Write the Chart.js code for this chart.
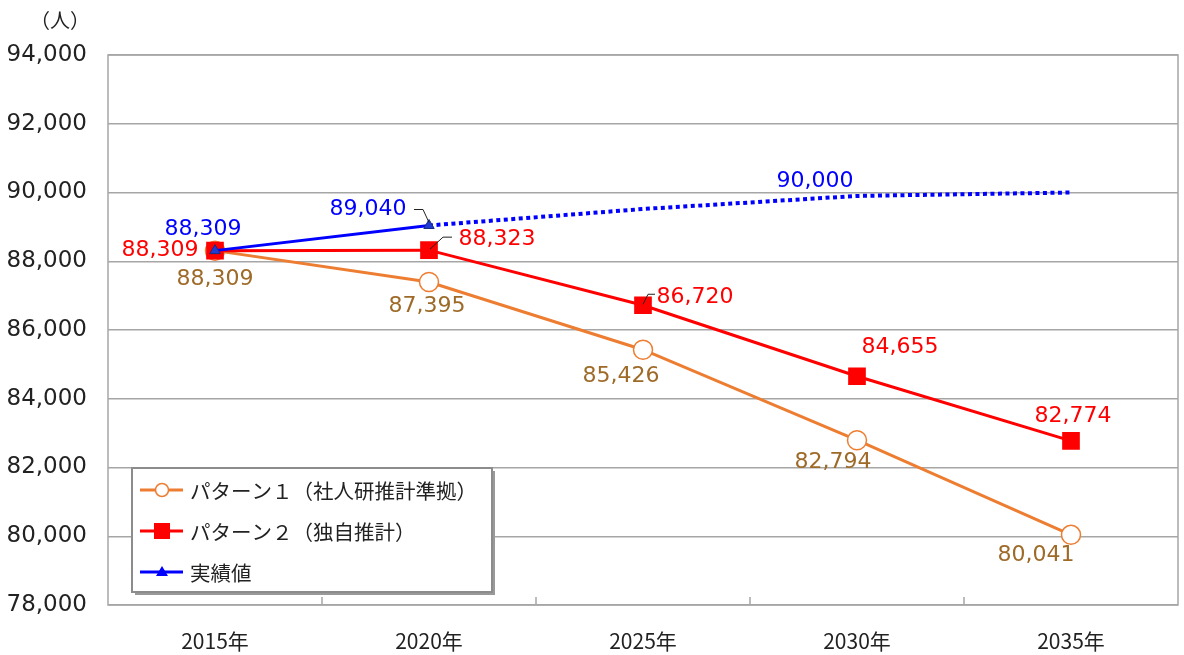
<!DOCTYPE html>
<html lang="ja">
<head>
<meta charset="utf-8">
<script src="https://cdn.jsdelivr.net/npm/chart.js@4.4.1/dist/chart.umd.min.js"></script>
<style>
  html, body { margin: 0; background: #fff; overflow: hidden; }
  canvas { display: block; }
</style>
</head>
<body>
<canvas id="myChart" width="1184" height="655"></canvas>
<script>
const years = ['2015年', '2020年', '2025年', '2030年', '2035年'];
const pattern1 = [88309, 87395, 85426, 82794, 80041];   // 社人研推計準拠
const pattern2 = [88309, 88323, 86720, 84655, 82774];   // 独自推計
const actual = [88309, 89040, null, null, null];        // 実績値
const goal = [null, 89040, 89520, 89900, 90000];        // 目標（点線）
const yMin = 78000, yMax = 94000, yStep = 2000;

const FONT = "'DejaVu Sans', 'Noto Sans CJK JP', sans-serif";
const JP_FONT = "'Noto Sans CJK JP', 'DejaVu Sans', sans-serif";
const ORANGE = '#ED7D31', RED = '#FF0000', BLUE = '#0000FF', BROWN = '#9E6A28';

// where each value label sits, relative to its point
const labelSpots = [
  { ds: 0, i: 0, dx: 0, dy: 29, color: BROWN },
  { ds: 0, i: 1, dx: -2, dy: 24, color: BROWN },
  { ds: 0, i: 2, dx: -22, dy: 27, color: BROWN },
  { ds: 0, i: 3, dx: -24, dy: 22, color: BROWN },
  { ds: 0, i: 4, dx: -35, dy: 20, color: BROWN },
  { ds: 1, i: 0, dx: -55, dy: 0, color: RED },
  { ds: 1, i: 1, dx: 68, dy: -11, color: RED, leader: [[23, -13], [14, -13], [1, -1]] },
  { ds: 1, i: 2, dx: 52, dy: -8, color: RED, leader: [[12, -11], [5, -11], [0, -1]] },
  { ds: 1, i: 3, dx: 43, dy: -29, color: RED },
  { ds: 1, i: 4, dx: 2, dy: -25, color: RED },
  { ds: 2, i: 0, dx: -12, dy: -21, color: BLUE },
  { ds: 2, i: 1, dx: -61, dy: -16, color: BLUE, leader: [[-15, -16], [-6, -16], [0, -3]] },
  { ds: 3, i: 4, dx: -256, dy: -11, color: BLUE }
];

const extras = {
  id: 'extras',
  beforeDatasetsDraw(chart) {
    const { ctx, chartArea: a, scales: { x } } = chart;
    ctx.save();
    ctx.strokeStyle = '#A6A6A6';
    ctx.lineWidth = 1.5;
    ctx.strokeRect(a.left, a.top, a.right - a.left, a.bottom - a.top);
    // category tick marks, drawn upward from the bottom axis
    const half = (x.getPixelForValue(1) - x.getPixelForValue(0)) / 2;
    for (let i = 0; i < years.length - 1; i++) {
      const px = x.getPixelForValue(i) + half;
      ctx.beginPath();
      ctx.moveTo(px, a.bottom);
      ctx.lineTo(px, a.bottom - 8);
      ctx.stroke();
    }
    ctx.restore();
  },
  afterDatasetsDraw(chart) {
    const { ctx } = chart;
    ctx.save();
    ctx.font = '22px ' + FONT;
    ctx.textAlign = 'center';
    ctx.textBaseline = 'middle';
    labelSpots.forEach(s => {
      const pt = chart.getDatasetMeta(s.ds).data[s.i];
      const v = chart.data.datasets[s.ds].data[s.i];
      if (s.leader) {
        ctx.strokeStyle = '#222';
        ctx.lineWidth = 1;
        ctx.beginPath();
        s.leader.forEach((p, k) => {
          if (k === 0) ctx.moveTo(pt.x + p[0], pt.y + p[1]);
          else ctx.lineTo(pt.x + p[0], pt.y + p[1]);
        });
        ctx.stroke();
      }
      ctx.fillStyle = s.color;
      ctx.fillText(v.toLocaleString('en-US'), pt.x + s.dx, pt.y + s.dy);
    });

    // unit
    ctx.fillStyle = '#222';
    ctx.font = '20px ' + JP_FONT;
    ctx.fillText('（人）', 60, 20);

    // legend box
    const lx = 132, ly = 468, lw = 360, lh = 124;
    ctx.fillStyle = '#999';
    ctx.fillRect(lx + 3, ly + 3, lw, lh);
    ctx.fillStyle = '#fff';
    ctx.fillRect(lx, ly, lw, lh);
    ctx.strokeStyle = '#8C8C8C';
    ctx.lineWidth = 2;
    ctx.strokeRect(lx, ly, lw, lh);
    const rows = [
      { y: 490, color: ORANGE, text: 'パターン１（社人研推計準拠）', mark: 'circle' },
      { y: 531, color: RED, text: 'パターン２（独自推計）', mark: 'square' },
      { y: 572, color: BLUE, text: '実績値', mark: 'triangle' }
    ];
    ctx.textAlign = 'left';
    ctx.font = '20.5px ' + JP_FONT;
    rows.forEach(r => {
      ctx.strokeStyle = r.color;
      ctx.lineWidth = 3;
      ctx.beginPath();
      ctx.moveTo(140, r.y);
      ctx.lineTo(183, r.y);
      ctx.stroke();
      const cx = 162;
      if (r.mark === 'circle') {
        ctx.fillStyle = '#fff';
        ctx.lineWidth = 1.5;
        ctx.beginPath();
        ctx.arc(cx, r.y, 6.5, 0, Math.PI * 2);
        ctx.fill();
        ctx.stroke();
      } else if (r.mark === 'square') {
        ctx.fillStyle = RED;
        ctx.fillRect(cx - 8, r.y - 8, 16, 16);
      } else {
        ctx.fillStyle = BLUE;
        ctx.beginPath();
        ctx.moveTo(cx, r.y - 6);
        ctx.lineTo(cx + 6, r.y + 4);
        ctx.lineTo(cx - 6, r.y + 4);
        ctx.closePath();
        ctx.fill();
      }
      ctx.fillStyle = '#222';
      ctx.fillText(r.text, 190, r.y + 1);
    });
    ctx.restore();
  }
};

const ctx = document.getElementById('myChart');
const chart = new Chart(ctx, {
  type: 'line',
  data: {
    labels: years,
    datasets: [
      {
        label: 'パターン１（社人研推計準拠）',
        data: pattern1,
        borderColor: ORANGE,
        borderWidth: 3,
        pointStyle: 'circle',
        pointRadius: 9.5,
        pointBackgroundColor: '#fff',
        pointBorderColor: ORANGE,
        pointBorderWidth: 1.5,
        order: 3
      },
      {
        label: 'パターン２（独自推計）',
        data: pattern2,
        borderColor: RED,
        borderWidth: 3,
        pointStyle: 'rect',
        pointRadius: 12.5,
        pointBackgroundColor: RED,
        pointBorderColor: RED,
        pointBorderWidth: 0,
        order: 2
      },
      {
        label: '実績値',
        data: actual,
        borderColor: BLUE,
        borderWidth: 3,
        pointStyle: 'triangle',
        pointRadius: 6,
        pointBackgroundColor: '#1F3BD6',
        pointBorderColor: '#1A2A80',
        pointBorderWidth: 1,
        order: 0
      },
      {
        label: '目標',
        data: goal,
        borderColor: BLUE,
        borderWidth: 4,
        borderDash: [4, 3.5],
        pointRadius: 0,
        order: 1
      }
    ]
  },
  options: {
    responsive: false,
    animation: false,
    layout: { autoPadding: false, padding: { top: 55, right: 6, left: 0, bottom: 0 } },
    plugins: {
      legend: { display: false },
      tooltip: { enabled: false }
    },
    scales: {
      x: {
        offset: true,
        grid: { display: false },
        border: { display: false },
        afterFit: s => { s.height = 50; s.paddingLeft = 0; s.paddingRight = 0; },
        ticks: { color: '#222', padding: 15, font: { size: 21, family: JP_FONT } }
      },
      y: {
        min: yMin,
        max: yMax,
        afterFit: s => { s.width = 108; },
        border: { display: false },
        grid: { color: '#A6A6A6', lineWidth: 1.5, drawTicks: false },
        ticks: {
          stepSize: yStep,
          padding: 21,
          color: '#222',
          font: { size: 23, family: FONT },
          callback: v => v.toLocaleString('en-US')
        }
      }
    }
  },
  plugins: [extras]
});
</script>
</body>
</html>
